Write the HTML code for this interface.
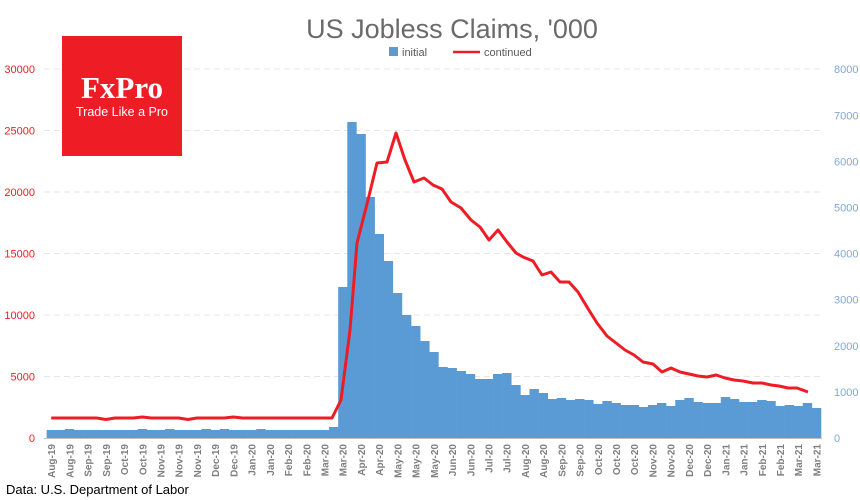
<!DOCTYPE html>
<html><head><meta charset="utf-8"><style>
body{margin:0;background:#fff;}
svg{display:block;font-family:"Liberation Sans",sans-serif;}
</style></head><body>
<svg id="c" width="860" height="500" viewBox="0 0 860 500" xmlns="http://www.w3.org/2000/svg">
<rect width="860" height="500" fill="#fff"/>
<text x="452" y="38" font-size="27" fill="#6a6a6a" text-anchor="middle">US Jobless Claims, '000</text>
<rect x="389" y="47" width="9" height="9" fill="#5b9bd5"/>
<text x="402" y="56" font-size="11" fill="#595959">initial</text>
<line x1="453" y1="52" x2="480" y2="52" stroke="#ee1c25" stroke-width="2.5"/>
<text x="484" y="56" font-size="11" fill="#595959">continued</text>
<g id="grid" stroke="#e6e6e6" stroke-dasharray="6,4" stroke-width="1"></g>
<g id="bars" fill="#5b9bd5"></g>
<line x1="44" y1="438.5" x2="822" y2="438.5" stroke="#bfbfbf"/>
<polyline id="line" fill="none" stroke="#ee1c25" stroke-width="3" stroke-linejoin="round"/>
<g id="ly" font-size="11" fill="#ee1c25" text-anchor="end"></g>
<g id="ry" font-size="11" fill="#7fa8d8"></g>
<g id="xl" font-size="10" font-weight="bold" fill="#7f7f7f"></g>
<rect x="62" y="36" width="120" height="120" fill="#ee1c25"/>
<text x="122" y="98" font-size="31" font-weight="bold" fill="#fff" text-anchor="middle" font-family="Liberation Serif,serif">FxPro</text>
<text x="122" y="116" font-size="12.5" fill="#fff" text-anchor="middle">Trade Like a Pro</text>
<text x="6" y="494" font-size="13" fill="#000">Data: U.S. Department of Labor</text>
</svg>
<script>
var NS="http://www.w3.org/2000/svg";
function el(p,t,a,txt){var e=document.createElementNS(NS,t);for(var k in a)e.setAttribute(k,a[k]);if(txt!=null)e.textContent=txt;document.getElementById(p).appendChild(e);return e;}
for(var i=1;i<=6;i++){var y=438-i*61.5;el("grid","line",{x1:44,x2:822,y1:y,y2:y});}
for(var i=0;i<=6;i++){var y=438-i*61.5;el("ly","text",{x:35,y:y+4},String(i*5000));}
for(var i=0;i<=8;i++){var y=438-i*46.1;el("ry","text",{x:834,y:y+4},String(i*1000));}
var pre=[430,430,429,430,430,430,430,430,430,430,429,430,430,429,430,430,430,429,430,429,430,430,430,429,430,430,430,430,430,430];
var tops=pre.concat([430,427,287,122,134,197,234,261,293,315,326,341,352,367,368,371,374,379,379,374,373,385,
395,389,393,399,398,400,399,400,404,401,403,405,405,407,405,403,406,400,398,402,403,403,397,399,402,402,400,401,406,405,406,403,408]);
var N=tops.length,x1=821,w=9.11,x0=x1-N*w;
for(var i=0;i<N;i++){el("bars","rect",{x:(x0+i*w).toFixed(2),y:tops[i],width:(w+0.3).toFixed(2),height:438-tops[i]});}
var pts=[];
for(var i=0;i<30;i++){var cx=x0+i*w+w/2;var y=418+((i==6||i==15)?1.5:0)-((i==10||i==20)?1:0);pts.push(cx.toFixed(1)+","+y);}
var L=[[324,418],[332,418],[341,400],[350,330],[357,243],[368,200],[377,163],[387,162],[396,133],[405,160],[414,182],[424,178],[433,185],[442,189],[451,202],[461,208],[471,220],[480,227],[489,240],[498,230],[507,242],[516,253],[523,257],[533,261],[542,275],[551,272],[560,282],[569,282],[578,292],[587,307],[597,323],[607,336],[616,343],[625,350],[634,355],[643,362],[653,364],[662,372],[671,368],[680,372],[689,374],[698,376],[707,377],[716,375],[725,378],[734,380],[743,381],[753,383],[762,383],[771,385],[779,386],[788,388],[797,388],[808,392]];
L.forEach(function(p){pts.push(p[0]+","+p[1]);});
document.getElementById("line").setAttribute("points",pts.join(" "));
var mon=["Jan","Feb","Mar","Apr","May","Jun","Jul","Aug","Sep","Oct","Nov","Dec"];
var d=new Date(Date.UTC(2019,7,10));
for(var i=0;i<N;i+=2){var x=x0+i*w+w/2+4;var lab=mon[d.getUTCMonth()]+"-"+String(d.getUTCFullYear()).slice(2);
el("xl","text",{transform:"translate("+x.toFixed(1)+",444) rotate(-90)","text-anchor":"end"},lab);
d=new Date(d.getTime()+14*86400000);}
</script>
</body></html>
